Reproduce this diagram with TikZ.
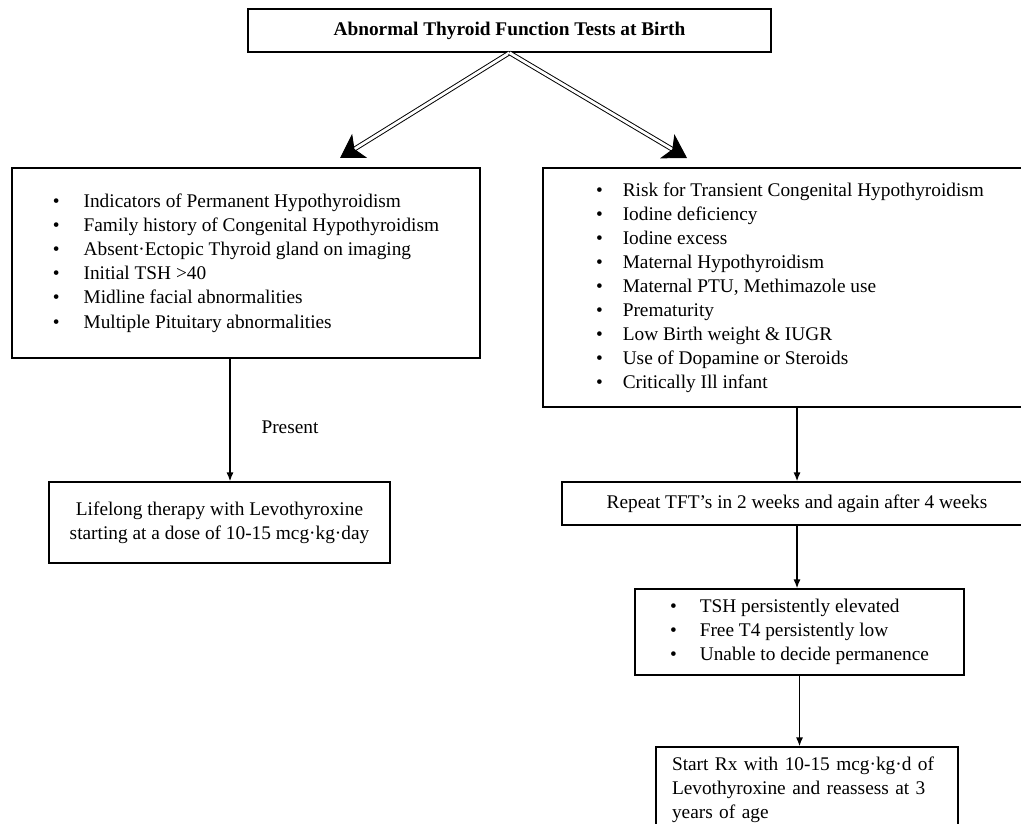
\documentclass[tikz,border=0pt]{standalone}
\usepackage{fontspec}
\setmainfont{Liberation Serif}
\usepackage{tikz}
\usetikzlibrary{arrows.meta}

\begin{document}
\begin{tikzpicture}[font=\fontsize{11}{13.7}\selectfont,
	box/.style={draw,line width=0.9pt,inner sep=0pt},
	arr/.style={-{Latex[length=5pt,width=4pt]},line width=0.7pt},
	dblarr/.style={double,double distance=1.6pt,line width=0.55pt,-{Stealth[length=0.46cm,width=0.56cm,inset=0.12cm]}}]
			\useasboundingbox (0,0) rectangle (20.42,-16.46);
			\draw (10.19,-0.61) node [box,minimum width=10.46cm,minimum height=0.86cm,font=\fontsize{11}{13.7}\selectfont\bfseries] (top) {Abnormal Thyroid Function Tests at Birth};
			\coordinate (ltip) at (6.8,-3.16);
			\coordinate (rtip) at (13.74,-3.16);
			\draw (4.92,-5.26) node [box,minimum width=9.36cm,minimum height=3.8cm] (perm) {\begin{tabular}{@{}l@{\hspace{0.48cm}}l@{}}
				\textbullet & Indicators of Permanent Hypothyroidism \\
				\textbullet & Family history of Congenital Hypothyroidism \\
				\textbullet & Absent·Ectopic Thyroid gland on imaging \\
				\textbullet & Initial TSH >40 \\
				\textbullet & Midline facial abnormalities \\
				\textbullet & Multiple Pituitary abnormalities
			\end{tabular}};
			\draw (15.8,-5.75) node [box,minimum width=9.88cm,minimum height=4.78cm] (trans) {\begin{tabular}{@{}l@{\hspace{0.4cm}}l@{}}
				\textbullet & Risk for Transient Congenital Hypothyroidism \\
				\textbullet & Iodine deficiency \\
				\textbullet & Iodine excess \\
				\textbullet & Maternal Hypothyroidism \\
				\textbullet & Maternal PTU, Methimazole use \\
				\textbullet & Prematurity \\
				\textbullet & Low Birth weight \& IUGR \\
				\textbullet & Use of Dopamine or Steroids \\
				\textbullet & Critically Ill infant
			\end{tabular}};
			\draw (5.8,-8.54) node (present) {Present};
			\draw (4.39,-10.45) node [box,minimum width=6.82cm,minimum height=1.62cm,align=center] (life) {Lifelong therapy with Levothyroxine \\ starting at a dose of 10-15 mcg·kg·day};
			\draw (15.94,-10.07) node [box,minimum width=9.4cm,minimum height=0.86cm] (rep) {Repeat TFT's in 2 weeks and again after 4 weeks};
			\draw (15.99,-12.64) node [box,minimum width=6.58cm,minimum height=1.72cm] (pers) {\begin{tabular}{@{}l@{\hspace{0.46cm}}l@{}}
				\textbullet & TSH persistently elevated \\
				\textbullet & Free T4 persistently low \\
				\textbullet & Unable to decide permanence
			\end{tabular}};
			\draw (16.14,-15.8) node [box,text width=5.4cm,inner xsep=0.32cm,minimum height=1.72cm,align=left] (rx) {Start Rx with 10-15 mcg·kg·d of \\ Levothyroxine and reassess at 3 \\ years of age};
			\draw[dblarr] (top.south) -- (ltip);
			\draw[dblarr] (top.south) -- (rtip);
			\path[arr]
				([xshift=-0.32cm]perm.south) edge ([xshift=-0.32cm]perm.south |- life.north)
				(rep.north |- trans.south) edge (rep.north)
				(rep.south) edge (rep.south |- pers.north)
				(pers.south) edge (pers.south |- rx.north);
		\end{tikzpicture}
\end{document}
